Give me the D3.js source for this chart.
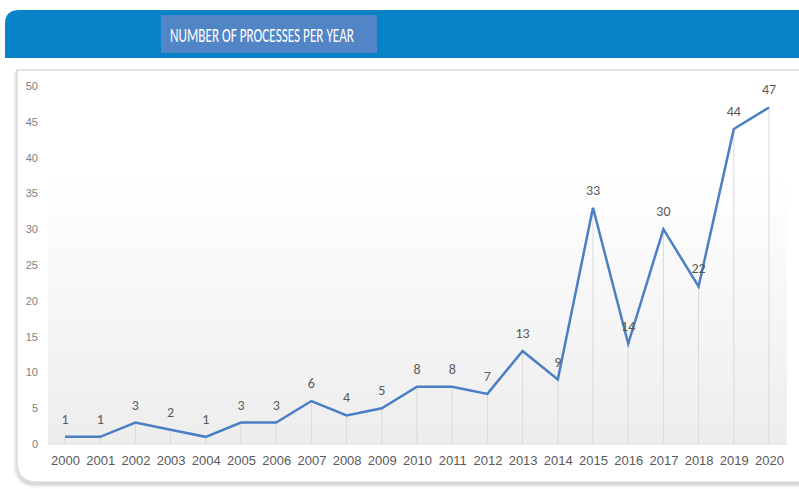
<!DOCTYPE html>
<html>
<head>
<meta charset="utf-8">
<script src="https://cdn.jsdelivr.net/npm/d3@7"></script>
<style>
  body { margin: 0; background: #fff; }
  svg { display: block; font-family: Carlito, "Liberation Sans Narrow", "Open Sans", sans-serif; }
</style>
</head>
<body>
<svg width="799" height="489"></svg>
<script>
// Chart data
const years = d3.range(2000, 2021);
const processes = [1, 1, 3, 2, 1, 3, 3, 6, 4, 5, 8, 8, 7, 13, 9, 33, 14, 30, 22, 44, 47];
const yTicks = [0, 5, 10, 15, 20, 25, 30, 35, 40, 45, 50];
const title = "NUMBER OF PROCESSES PER YEAR";

const svg = d3.select("svg");

const defs = svg.append("defs");
const grad = defs.append("linearGradient")
    .attr("id", "bg").attr("x1", 0).attr("y1", 0).attr("x2", 0).attr("y2", 1);
grad.append("stop").attr("offset", "0%").attr("stop-color", "#ffffff");
grad.append("stop").attr("offset", "25%").attr("stop-color", "#ffffff");
grad.append("stop").attr("offset", "100%").attr("stop-color", "#ededed");

const shadow = defs.append("filter").attr("id", "shadow")
    .attr("x", "-5%").attr("y", "-5%").attr("width", "110%").attr("height", "115%");
shadow.append("feDropShadow").attr("dx", -1).attr("dy", 3).attr("stdDeviation", 1.5)
    .attr("flood-color", "#000").attr("flood-opacity", 0.18);

// Header band
svg.append("path")
    .attr("d", "M5,58 L5,24 Q5,10 19,10 L799,10 L799,58 Z")
    .attr("fill", "#0983c7");

svg.append("rect")
    .attr("x", 161).attr("y", 15).attr("width", 216).attr("height", 38)
    .attr("fill", "#5285c6");

// title: tall but narrow, squeeze horizontally to fit
const titleText = svg.append("text")
    .attr("x", 0).attr("y", 0)
    .attr("text-anchor", "middle")
    .attr("fill", "#fff")
    .style("font-size", "21px")
    .text(title);
const tw = titleText.node().getComputedTextLength();
titleText.attr("transform", `translate(262,42) scale(${184 / tw},1)`);

// Panel
svg.append("path")
    .attr("d", "M17,70 L805,70 L805,482 L37,482 Q17,482 17,462 Z")
    .attr("fill", "#fff")
    .attr("stroke", "#dcdcdc")
    .attr("stroke-width", 1.5)
    .attr("filter", "url(#shadow)");

// Scales
const x = d3.scaleLinear().domain([2000, 2020]).range([65, 769]);
const y = d3.scaleLinear().domain([0, 50]).range([444, 86]);

// Plot background
svg.append("rect")
    .attr("x", 48).attr("y", y(50)).attr("width", 739).attr("height", y(0) - y(50))
    .attr("fill", "url(#bg)");

// Y axis
const yAxis = svg.append("g")
    .attr("transform", "translate(38,0)")
    .call(d3.axisLeft(y).tickValues(yTicks).tickSize(0).tickPadding(0));
yAxis.select(".domain").remove();
yAxis.selectAll("text").attr("fill", "#808080").style("font-size", "11px");

// Baseline
svg.append("line")
    .attr("x1", 48).attr("x2", 787)
    .attr("y1", y(0)).attr("y2", y(0))
    .attr("stroke", "#d9d9d9");

// Drop lines
svg.append("g").selectAll("line")
    .data(processes)
    .join("line")
      .attr("x1", (d, i) => x(years[i]))
      .attr("x2", (d, i) => x(years[i]))
      .attr("y1", d => y(d))
      .attr("y2", y(0))
      .attr("stroke", "#d9d9d9");

// X axis
const xAxis = svg.append("g")
    .attr("transform", `translate(0,${y(0)})`)
    .call(d3.axisBottom(x).tickValues(years).tickFormat(d3.format("d")).tickSize(0).tickPadding(12));
xAxis.select(".domain").remove();
xAxis.selectAll("text").attr("fill", "#595959").style("font-size", "13px");

// Line
svg.append("path")
    .datum(processes)
    .attr("fill", "none")
    .attr("stroke", "#4a7fc4")
    .attr("stroke-width", 2.5)
    .attr("stroke-linejoin", "miter")
    .attr("d", d3.line().x((d, i) => x(years[i])).y(d => y(d)));

// Value labels
svg.append("g").selectAll("text")
    .data(processes)
    .join("text")
      .attr("x", (d, i) => x(years[i]))
      .attr("y", d => y(d) - 13)
      .attr("text-anchor", "middle")
      .attr("fill", "#595959")
      .style("font-size", "14px")
      .text(d => d);
</script>
</body>
</html>
